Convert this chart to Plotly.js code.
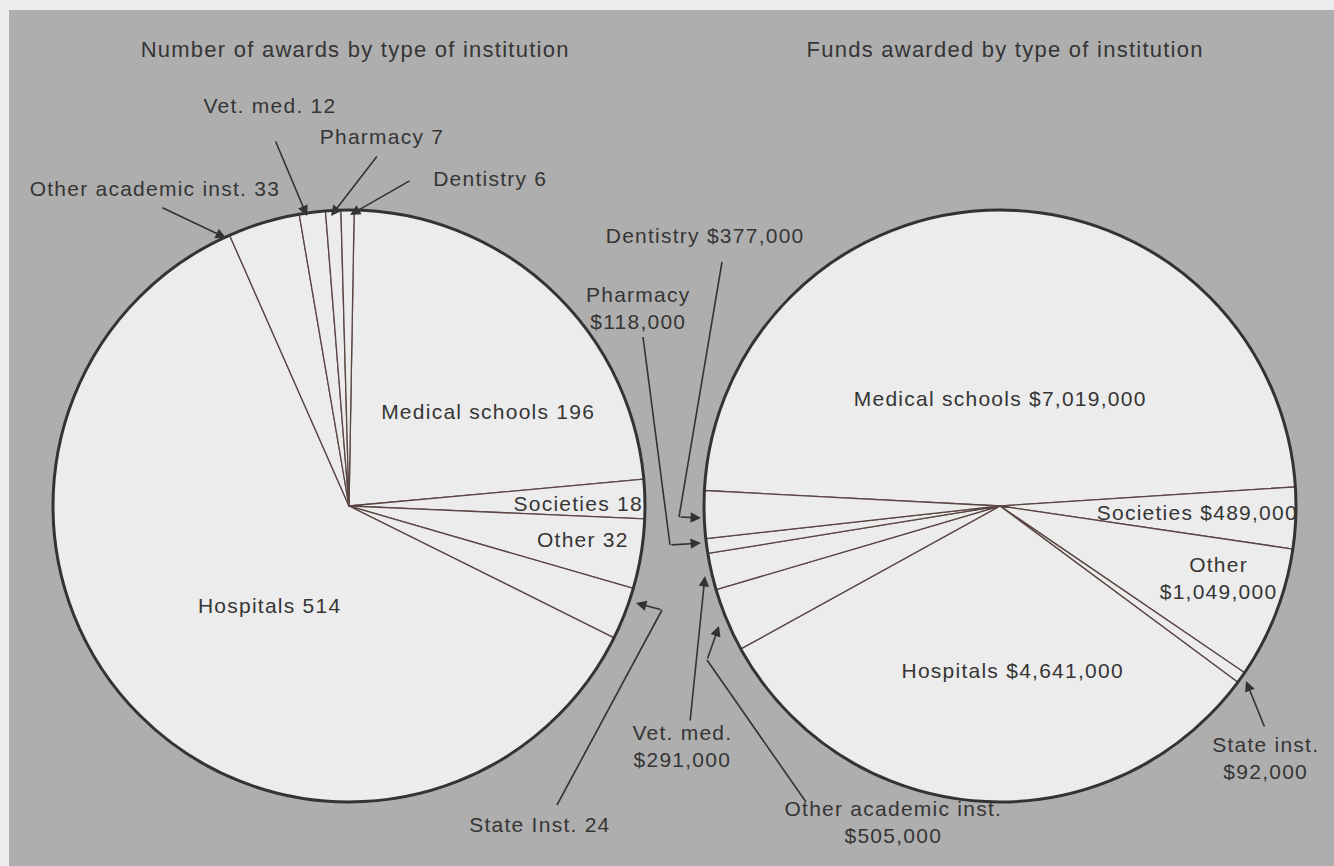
<!DOCTYPE html>
<html>
<head>
<meta charset="utf-8">
<script src="https://cdn.plot.ly/plotly-3.0.1.min.js"></script>
<style>
  html, body { margin: 0; padding: 0; background: #ececec; }
  #chart { width: 1334px; height: 866px; }
  .js-plotly-plot .annotation-text { letter-spacing: 1.25px; }
</style>
</head>
<body>
<div id="chart"></div>
<script>
// ---- Data ----
const leftTitle = 'Number of awards by type of institution';
const rightTitle = 'Funds awarded by type of institution';
const leftLabels = ['Medical schools', 'Societies', 'Other', 'State Inst.', 'Hospitals',
                    'Other academic inst.', 'Vet. med.', 'Pharmacy', 'Dentistry'];
const rightLabels = ['Medical schools', 'Societies', 'Other', 'State inst.', 'Hospitals',
                     'Other academic inst.', 'Vet. med.', 'Pharmacy', 'Dentistry'];
const awardCounts = [196, 18, 32, 24, 514, 33, 12, 7, 6];
const fundsAwarded = [7019000, 489000, 1049000, 92000, 4641000, 505000, 291000, 118000, 377000];

// ---- Layout helpers ----
const W = 1334, H = 866;
const X = px => px / W;
const Y = py => 1 - py / H;
const fmtMoney = v => '$' + v.toLocaleString('en-US');
const sum = a => a.reduce((s, v) => s + v, 0);

const FONT = 'Liberation Sans, Arial, Helvetica, sans-serif';
const TXT = '#353535';
const R = 296;
function domainFor(cx, cy) {
  return { x: [X(cx - R), X(cx + R)], y: [Y(cy + R), Y(cy - R)] };
}
const leftDomain = domainFor(349, 506);
const rightDomain = domainFor(1000, 506);

const sliceFill = '#ececec';
const traces = [
  {
    type: 'pie', labels: leftLabels, values: awardCounts, domain: leftDomain,
    sort: false, direction: 'clockwise', rotation: 1, textinfo: 'none',
    marker: { colors: leftLabels.map(() => sliceFill), line: { color: '#5a4642', width: 1.3 } },
    hoverinfo: 'label+value', showlegend: false
  },
  {
    type: 'pie', labels: ['All awards'], values: [sum(awardCounts)], domain: leftDomain,
    sort: false, textinfo: 'none',
    marker: { colors: ['rgba(0,0,0,0)'], line: { color: '#333333', width: 3 } },
    hoverinfo: 'skip', showlegend: false
  },
  {
    type: 'pie', labels: rightLabels, values: fundsAwarded, domain: rightDomain,
    sort: false, direction: 'clockwise', rotation: -87, textinfo: 'none',
    marker: { colors: rightLabels.map(() => sliceFill), line: { color: '#5a4642', width: 1.3 } },
    hoverinfo: 'label+value', showlegend: false
  },
  {
    type: 'pie', labels: ['All funds'], values: [sum(fundsAwarded)], domain: rightDomain,
    sort: false, textinfo: 'none',
    marker: { colors: ['rgba(0,0,0,0)'], line: { color: '#333333', width: 3 } },
    hoverinfo: 'skip', showlegend: false
  }
];

// label text positions (px) and whether value goes on a second line
const leftPos = [[488, 412], [578, 503], [583, 539], [540, 824], [270, 605],
                 [155, 188], [270, 106], [382, 136], [490, 178]];
const rightPos = [[1000, 398], [1197, 512], [1218, 578], [1265, 758], [1012, 670],
                  [893, 822], [682, 746], [638, 308], [705, 236]];
const rightTwoLine = [false, false, true, true, false, true, true, true, false];

const annotations = [];
function textAnn(text, px, py, size) {
  annotations.push({
    xref: 'paper', yref: 'paper', x: X(px), y: Y(py), text: text, showarrow: false,
    xanchor: 'center', yanchor: 'middle', align: 'center',
    font: { family: FONT, size: size || 21, color: TXT }
  });
}
textAnn(leftTitle, 355, 50, 22);
textAnn(rightTitle, 1005, 50, 22);
leftLabels.forEach((name, i) => {
  textAnn(name + ' ' + awardCounts[i], leftPos[i][0], leftPos[i][1]);
});
rightLabels.forEach((name, i) => {
  const sep = rightTwoLine[i] ? '<br>' : ' ';
  textAnn(name + sep + fmtMoney(fundsAwarded[i]), rightPos[i][0], rightPos[i][1]);
});

// arrows: [tailX, tailY, headX, headY]
const arrows = [
  [275, 140, 307, 216],   // Vet. med. (left)
  [378, 155, 331, 216],   // Pharmacy (left)
  [411, 180, 350, 215],   // Dentistry (left)
  [161, 207, 226, 238],   // Other academic (left)
  [662, 610, 636, 603],   // State Inst. (left) after elbow
  [679, 517, 701, 518],   // Dentistry (right) after elbow
  [670, 545, 701, 543],   // Pharmacy (right) after elbow
  [690, 722, 705, 576],   // Vet. med. (right)
  [707, 660, 719, 626],   // Other academic (right) after elbow
  [1265, 728, 1246, 681]  // State inst. (right)
];
arrows.forEach(a => {
  annotations.push({
    xref: 'paper', yref: 'paper', x: X(a[2]), y: Y(a[3]),
    axref: 'pixel', ayref: 'pixel', ax: a[0] - a[2], ay: a[1] - a[3],
    text: '', showarrow: true, arrowhead: 2, arrowsize: 1.3, arrowwidth: 1.6,
    arrowcolor: '#333333', standoff: 0, startstandoff: 0
  });
});

// elbow leader segments (label -> elbow)
const leaders = [
  [557, 805, 662, 610],
  [722, 262, 679, 517],
  [643, 337, 670, 545],
  [806, 802, 707, 660]
];
const shapes = [
  { type: 'rect', xref: 'paper', yref: 'paper', x0: X(9), x1: 1, y0: 0, y1: Y(10),
    fillcolor: '#aeaeae', line: { width: 0 }, layer: 'below' }
];
leaders.forEach(l => {
  shapes.push({ type: 'line', xref: 'paper', yref: 'paper',
    x0: X(l[0]), y0: Y(l[1]), x1: X(l[2]), y1: Y(l[3]),
    line: { color: '#333333', width: 1.6 }, layer: 'above' });
});

const layout = {
  width: W, height: H,
  margin: { l: 0, r: 0, t: 0, b: 0, pad: 0 },
  paper_bgcolor: '#ededed', plot_bgcolor: 'rgba(0,0,0,0)',
  showlegend: false,
  font: { family: FONT, color: TXT },
  annotations: annotations,
  shapes: shapes
};

Plotly.newPlot('chart', traces, layout, { displayModeBar: false, responsive: false });
</script>
</body>
</html>
